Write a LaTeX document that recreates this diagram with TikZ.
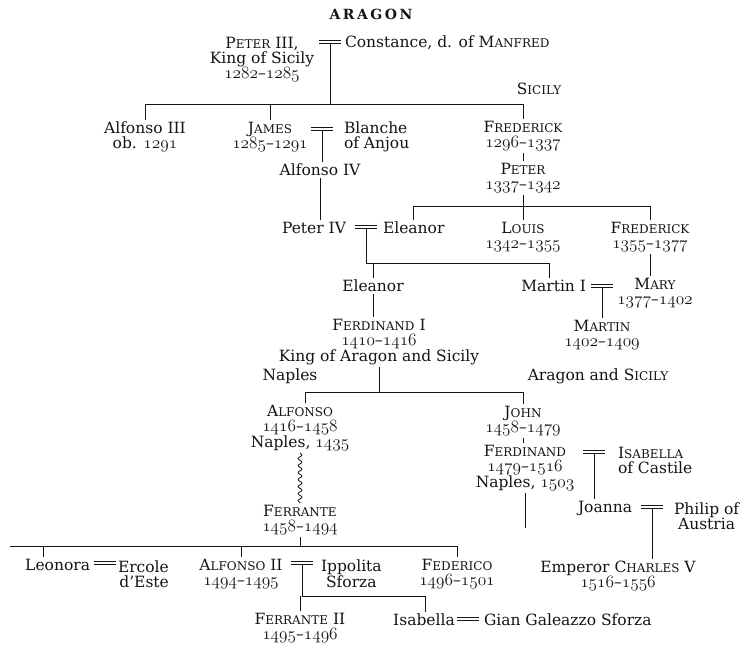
\documentclass[tikz,border=0pt]{standalone}
\usepackage{fontspec}
\setmainfont{DejaVu Serif}
\usetikzlibrary{decorations.pathmorphing}
\definecolor{ink}{rgb}{0.08,0.08,0.08}
% old-style figures taken from the Latin Modern math italic
\newcommand\osn[1]{{\fontsize{17.5}{15}\usefont{OML}{lmm}{b}{it}#1}}
\newcommand\yrs[2]{\osn{#1}--\osn{#2}}
% small capitals: initial capital followed by reduced capitals
\newcommand\smc[2]{#1{\fontsize{12}{15}\selectfont#2}}
\tikzset{
  pers/.style={font=\fontsize{15.5}{15}\selectfont, inner sep=0pt, outer sep=2pt, align=center, text=ink},
  heading/.style={font=\fontsize{14}{14}\selectfont\bfseries, inner sep=0pt, text=ink},
  link/.style={draw=ink, line width=0.8pt},
  wedline/.style={draw=ink, line width=1pt},
  wed/.style={minimum width=22pt, minimum height=3.6pt, inner sep=0pt, outer sep=0pt,
    append after command={(\tikzlastnode.north west) edge[wedline] (\tikzlastnode.north east)
      (\tikzlastnode.south west) edge[wedline] (\tikzlastnode.south east)}},
  wavy/.style={link, decorate, decoration={snake, segment length=7pt, amplitude=2pt}}
}
\begin{document}
\begin{tikzpicture}[x=1pt,y=-1pt]
\fill[white] (0,0) rectangle (748,649);
\useasboundingbox (0,0) rectangle (748,649);

\node[heading] (aragon) at (371,14) {A\kern2.5pt R\kern2.5pt A\kern2.5pt G\kern2.5pt O\kern2.5pt N};

% Peter III and Constance
\node[pers] (p3) at (262,60) {\smc{P}{ETER} III,\\King of Sicily\\\yrs{1282}{1285}};
\node[wed] (w1) at (330,42) {};
\node[pers, anchor=west] (constance) at (343,43) {Constance, d. of \smc{M}{ANFRED}};
\node[pers] (sicily) at (539,89) {\smc{S}{ICILY}};
\coordinate (bus1) at (0,104);

% their children
\node[pers] (alf3) at (145,137) {Alfonso III\\ob. \osn{1291}};
\node[pers] (james) at (270,137) {\smc{J}{AMES}\\\yrs{1285}{1291}};
\node[wed] (w2) at (322,129) {};
\node[pers, anchor=west, align=left] (blanche) at (342,137) {Blanche\\of Anjou};
\node[pers] (alf4) at (320,170) {Alfonso IV};
\node[pers] (fred1) at (523,136) {\smc{F}{REDERICK}\\\yrs{1296}{1337}};
\node[pers] (peter) at (523,178) {\smc{P}{ETER}\\\yrs{1337}{1342}};
\coordinate (bus2) at (0,206);

\node[pers] (peter4) at (314,228) {Peter IV};
\node[wed] (w3) at (366,227) {};
\node[pers, anchor=west] (eleanor1) at (381,228) {Eleanor};
\node[pers] (louis) at (523,237) {\smc{L}{OUIS}\\\yrs{1342}{1355}};
\node[pers] (fred2) at (650,237) {\smc{F}{REDERICK}\\\yrs{1355}{1377}};
\coordinate (bus3) at (0,263);

\node[pers] (eleanor2) at (373,286) {Eleanor};
\node[pers, anchor=east] (martin1) at (588,286) {Martin I};
\node[wed] (w4) at (602,286) {};
\node[pers] (mary) at (655,293) {\smc{M}{ARY}\\\yrs{1377}{1402}};
\node[pers] (martin) at (602,335) {\smc{M}{ARTIN}\\\yrs{1402}{1409}};
\node[pers] (ferd1) at (379,342) {\smc{F}{ERDINAND} I\\\yrs{1410}{1416}\\King of Aragon and Sicily};

\node[pers] (naples) at (290,376) {Naples};
\node[pers] (aragsic) at (598,376) {Aragon and \smc{S}{ICILY}};
\coordinate (bus4) at (0,392);

% Naples line
\node[pers] (alfonso) at (300,428) {\smc{A}{LFONSO}\\\yrs{1416}{1458}\\Naples, \osn{1435}};
\node[pers] (ferrante) at (300,520) {\smc{F}{ERRANTE}\\\yrs{1458}{1494}};
\coordinate (bus5) at (0,546);
\coordinate (bus5w) at (10,546);
\node[pers, anchor=east] (leonora) at (92,565) {Leonora};
\node[wed] (w5) at (105,563) {};
\node[pers, anchor=west, align=right] (ercole) at (116,574) {Ercole\\d'Este};
\node[pers] (alf2) at (241,574) {\smc{A}{LFONSO} II\\\yrs{1494}{1495}};
\node[wed] (w6) at (302,563) {};
\node[pers, anchor=west] (ippolita) at (319,574) {Ippolita\\Sforza};
\node[pers] (federico) at (457,574) {\smc{F}{EDERICO}\\\yrs{1496}{1501}};
\coordinate (bus6) at (0,596);
\node[pers] (ferr2) at (300,628) {\smc{F}{ERRANTE} II\\\yrs{1495}{1496}};
\node[pers] (isabella2) at (424,620) {Isabella};
\node[wed] (w7) at (468,619) {};
\node[pers, anchor=west] (gian) at (482,620) {Gian Galeazzo Sforza};

% Aragon and Sicily line
\node[pers] (john) at (523,421) {\smc{J}{OHN}\\\yrs{1458}{1479}};
\node[pers] (ferd2) at (525,468) {\smc{F}{ERDINAND}\\\yrs{1479}{1516}\\Naples, \osn{1503}};
\node[wed] (w8) at (594,452) {};
\node[pers, anchor=west, align=left] (isabella) at (616,460) {\smc{I}{SABELLA}\\of Castile};
\coordinate (ferdend) at (524,528);
\node[pers] (joanna) at (605,508) {Joanna};
\node[wed] (w9) at (652,507) {};
\node[pers, anchor=west] (philip) at (672,516) {Philip of\\Austria};
\node[pers] (charles) at (618,576) {Emperor \smc{C}{HARLES} V\\\yrs{1516}{1556}};

% connectors
\draw[link] (w1.south) -- (w1.south |- bus1);
\draw[link] (alf3.north) -- (alf3.north |- bus1) -| (fred1.north);
\draw[link] (james.north) -- (james.north |- bus1);
\draw[link] (w2.south) -- (w2.south |- alf4.north);
\draw[link] (alf4.south) -- (alf4.south |- peter4.north);
\draw[link] (fred1.south) -- (peter.north);
\draw[link] (peter.south) -- (peter.south |- bus2);
\draw[link] (eleanor1.north) -- (eleanor1.north |- bus2) -| (fred2.north);
\draw[link] (louis.north) -- (louis.north |- bus2);
\draw[link] (w3.south) -- (w3.south |- bus3) -| ([xshift=-4pt]martin1.north);
\draw[link] (eleanor2.north) -- (eleanor2.north |- bus3);
\draw[link] (fred2.south) -- (fred2.south |- mary.north);
\draw[link] (w4.south) -- (w4.south |- martin.north);
\draw[link] (eleanor2.south) -- (eleanor2.south |- ferd1.north);
\draw[link] (ferd1.south) -- (ferd1.south |- bus4);
\draw[link] ([xshift=5pt]alfonso.north) -- ([xshift=5pt]alfonso.north |- bus4) -| (john.north);
\draw[wavy] (alfonso.south) -- (ferrante.north);
\draw[link] (john.south) -- (john.south |- ferd2.north);
\draw[link] (ferd2.south) -- (ferd2.south |- ferdend);
\draw[link] (w8.south) -- (w8.south |- joanna.north);
\draw[link] (w9.south) -- (w9.south |- charles.north);
\draw[link] (ferrante.south) -- (ferrante.south |- bus5);
\draw[link] (bus5w) -| (federico.north);
\draw[link] (bus5 -| 43,0) -- (43,0 |- leonora.north);
\draw[link] (alf2.north) -- (alf2.north |- bus5);
\draw[link] (w6.south) -- (w6.south |- bus6) -| ([xshift=1pt]isabella2.north);
\draw[link] (ferr2.north) -- (ferr2.north |- bus6);
\end{tikzpicture}
\end{document}
